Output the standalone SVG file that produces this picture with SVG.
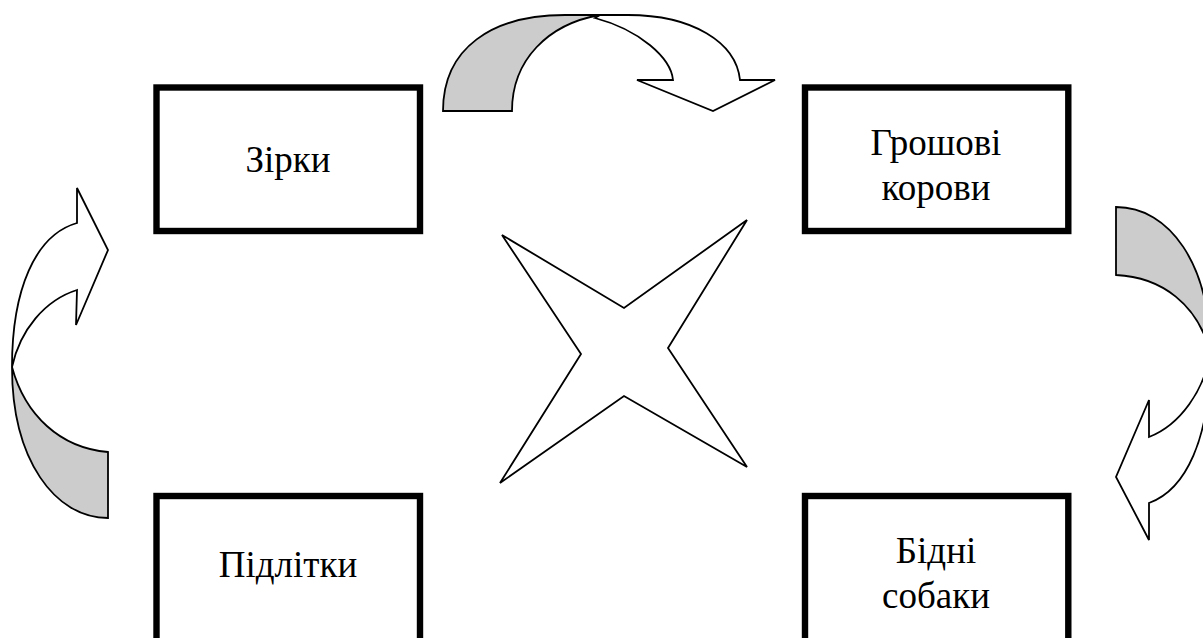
<svg xmlns="http://www.w3.org/2000/svg" width="1203" height="638" viewBox="0 0 1203 638">
<style>
.box{fill:#fff;stroke:#000;stroke-width:6.4}
.lbl{font-family:"Liberation Serif","Times New Roman",serif;font-size:37px;fill:#000;text-anchor:middle}
.g{fill:#cccccc;stroke:#000;stroke-width:1.8;stroke-linejoin:miter}
.w{fill:#fff;stroke:#000;stroke-width:1.8;stroke-linejoin:miter}
</style>
<rect width="1203" height="638" fill="#fff"/>
<g id="stars">
<rect class="box" x="156.5" y="87.5" width="263.5" height="143.5"/>
<text class="lbl" x="288" y="172">Зірки</text>
</g>
<g id="cash-cows">
<rect class="box" x="805" y="87.5" width="263.3" height="143.5"/>
<text class="lbl" x="936" y="155">Грошові</text>
<text class="lbl" x="936" y="200">корови</text>
</g>
<g id="question-marks">
<rect class="box" x="156.5" y="496" width="263.5" height="146"/>
<text class="lbl" x="288" y="577">Підлітки</text>
</g>
<g id="dogs">
<rect class="box" x="805" y="496" width="263.3" height="146"/>
<text class="lbl" x="936" y="563">Бідні</text>
<text class="lbl" x="936" y="608">собаки</text>
</g>
<g id="connectors">
<g id="arrow-top">
<path class="g" d="M443,111 C443,48 492,15 565,15 L600,15 C548,24 512,60 512,111 Z"/>
<path class="w" d="M595,18 L600,15 L628,15 C692,15 736,42 740,80 L775,80 L713,111 L637,80 L673,80 C671,58 640,30 595,18 Z"/>
</g>
<g id="arrow-right">
<path class="g" d="M1116,207 C1170,207 1210,265 1210,352 C1198,305 1162,277 1116,275 Z"/>
<path class="w" d="M1210,352 C1211,440 1185,490 1149,503 L1149,540 L1116,477 L1149,400 L1149,437 C1180,425 1205,390 1210,352 Z"/>
</g>
<g id="arrow-left">
<path class="g" d="M12,367 C12,460 55,518 108,518 L108,452 C60,448 25,415 12,367 Z"/>
<path class="w" d="M77,188 L108,250 L76,325 L77,290 C45,300 20,330 12,367 C12,290 35,235 77,223 Z"/>
</g>
<polygon id="cross-star" class="w" points="502,235 624,308 747,220 668,348 747,467 624,396 500,483 581,354"/>
</g>
</svg>
